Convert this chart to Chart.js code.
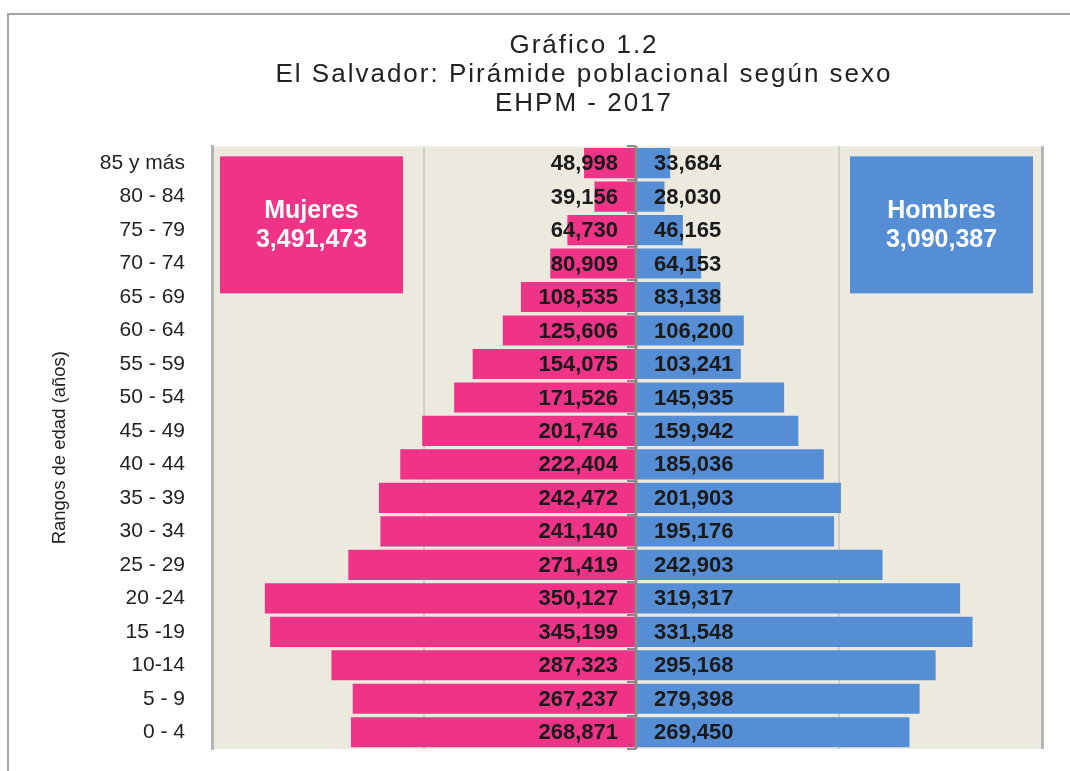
<!DOCTYPE html>
<html><head><meta charset="utf-8">
<script src="https://cdn.jsdelivr.net/npm/chart.js@4.4.1/dist/chart.umd.min.js"></script>
<style>
html,body{margin:0;padding:0;background:#fff;overflow:hidden;width:1070px;height:771px;}
#frame{position:absolute;left:7px;top:13px;width:1200px;height:800px;border-top:2px solid #a4a4a4;border-left:2px solid #a4a4a4;}
#c{position:absolute;left:0;top:0;}
</style></head><body>
<div id="frame"><canvas id="c" width="1150" height="756" style="width:1150px;height:756px"></canvas></div>
<script>
// ---- data ----
const ageGroups = ['85 y más','80 - 84','75 - 79','70 - 74','65 - 69','60 - 64','55 - 59','50 - 54','45 - 49','40 - 44','35 - 39','30 - 34','25 - 29','20 -24','15 -19','10-14','5 - 9','0 - 4'];
const mujeres = [48998,39156,64730,80909,108535,125606,154075,171526,201746,222404,242472,241140,271419,350127,345199,287323,267237,268871];
const hombres = [33684,28030,46165,64153,83138,106200,103241,145935,159942,185036,201903,195176,242903,319317,331548,295168,279398,269450];
const seriesNames = ['Mujeres','Hombres'];
const seriesTotals = [3491473, 3090387];
const titleLines = ['Gráfico 1.2','El Salvador: Pirámide poblacional según sexo','EHPM - 2017'];
const axisTitle = 'Rangos de edad (años)';
const axisMax = 400000;
const gridStep = 200000;

const PINK = '#EF3387', BLUE = '#558ED5';
const fmt = v => v.toLocaleString('en-US');

const plotBg = {
  id: 'plotBg',
  beforeDraw(chart) {
    const {ctx, chartArea: a} = chart;
    ctx.save();
    ctx.fillStyle = '#ECE9DF';
    ctx.fillRect(a.left, a.top, a.right - a.left, a.bottom - a.top);
    ctx.restore();
    // slightly spaced title lettering, as in the original
    const tb = chart.titleBlock;
    if (tb && !tb._spaced) {
      const orig = tb.draw.bind(tb);
      tb.draw = function (area) {
        const c = this.ctx;
        c.save();
        try { c.letterSpacing = '2px'; } catch (e) {}
        orig(area);
        c.restore();
      };
      tb._spaced = true;
    }
  }
};

const totalsBoxes = {
  id: 'totalsBoxes',
  beforeDatasetsDraw(chart) {
    const {ctx, chartArea: a} = chart;
    const w = 183, h = 137, top = a.top + 10;
    const boxes = [
      {x: a.left + 8, color: PINK, name: seriesNames[0], total: seriesTotals[0]},
      {x: a.right - 9 - w, color: BLUE, name: seriesNames[1], total: seriesTotals[1]}
    ];
    ctx.save();
    boxes.forEach(b => {
      ctx.fillStyle = b.color;
      ctx.fillRect(b.x, top, w, h);
      ctx.fillStyle = '#ffffff';
      ctx.font = 'bold 25px "Liberation Sans", Arial, sans-serif';
      ctx.textAlign = 'center';
      ctx.textBaseline = 'middle';
      const cx = b.x + w / 2, cy = top + h / 2;
      ctx.fillText(b.name, cx, cy - 14);
      ctx.fillText(fmt(b.total), cx, cy + 15);
    });
    ctx.restore();
  }
};

const centerAxis = {
  id: 'centerAxis',
  afterDatasetsDraw(chart) {
    const {ctx, chartArea: a, scales} = chart;
    const x0 = scales.xm.getPixelForValue(0);
    const y = scales.y;
    const step = (y.getPixelForValue(1) - y.getPixelForValue(0));
    ctx.save();
    ctx.strokeStyle = '#8a8a8a';
    ctx.lineWidth = 3;
    ctx.beginPath();
    ctx.moveTo(x0, a.top);
    ctx.lineTo(x0, a.bottom);
    ctx.stroke();
    ctx.lineWidth = 2;
    ctx.beginPath();
    for (let i = 0; i <= ageGroups.length; i++) {
      const yy = Math.round(y.getPixelForValue(i) - step / 2);
      ctx.moveTo(x0 - 9, yy);
      ctx.lineTo(x0, yy);
    }
    ctx.stroke();
    ctx.fillStyle = '#1a1a1a';
    ctx.font = 'bold 22px "Liberation Sans", Arial, sans-serif';
    ctx.textBaseline = 'middle';
    chart.getDatasetMeta(0).data.forEach((bar, i) => {
      ctx.textAlign = 'right';
      ctx.fillText(fmt(mujeres[i]), x0 - 18, bar.y + 1);
    });
    chart.getDatasetMeta(1).data.forEach((bar, i) => {
      ctx.textAlign = 'left';
      ctx.fillText(fmt(hombres[i]), x0 + 18, bar.y + 1);
    });
    ctx.restore();
  }
};

const gridColor = ctx => {
  const v = ctx.tick && ctx.tick.value;
  if (v === 0) return 'rgba(0,0,0,0)';
  if (v === axisMax) return '#b4b4b4';
  return '#cfcfcf';
};
const gridWidth = ctx => (ctx.tick && ctx.tick.value === axisMax) ? 3 : 2;

new Chart(document.getElementById('c'), {
  type: 'bar',
  data: {
    labels: ageGroups,
    datasets: [
      {label: seriesNames[0], data: mujeres, xAxisID: 'xf', yAxisID: 'y', backgroundColor: PINK, barPercentage: 0.9, categoryPercentage: 1, grouped: false},
      {label: seriesNames[1], data: hombres, xAxisID: 'xm', yAxisID: 'y', backgroundColor: BLUE, barPercentage: 0.9, categoryPercentage: 1, grouped: false}
    ]
  },
  options: {
    indexAxis: 'y',
    responsive: false,
    animation: false,
    devicePixelRatio: 1,
    layout: {padding: {left: 0, right: 0, top: 0, bottom: 22}},
    plugins: {
      legend: {display: false},
      tooltip: {enabled: false},
      title: {
        display: true,
        text: titleLines,
        color: '#222222',
        font: {family: '"Liberation Sans", Arial, sans-serif', size: 26, weight: 'normal', lineHeight: 1.12},
        padding: {top: 16, bottom: 28}
      }
    },
    scales: {
      xf: {
        type: 'linear', position: 'bottom', stack: 'pyr', stackWeight: 424,
        reverse: true, min: 0, max: axisMax,
        ticks: {display: false, stepSize: gridStep},
        grid: {color: gridColor, lineWidth: gridWidth, drawTicks: false},
        border: {display: false}
      },
      xm: {
        type: 'linear', position: 'bottom', stack: 'pyr', stackWeight: 406,
        min: 0, max: axisMax,
        ticks: {display: false, stepSize: gridStep},
        grid: {color: gridColor, lineWidth: gridWidth, drawTicks: false},
        border: {display: false}
      },
      y: {
        type: 'category', position: 'left',
        afterFit: s => { s.width = 203; s.paddingTop = 0; s.paddingBottom = 0; },
        grid: {display: false, drawTicks: false},
        border: {display: true, color: '#b4b4b4', width: 3},
        ticks: {color: '#222222', padding: 27, font: {family: '"Liberation Sans", Arial, sans-serif', size: 21}},
        title: {
          display: true, text: axisTitle, color: '#222222',
          font: {family: '"Liberation Sans Narrow", "Arial Narrow", "Liberation Sans", sans-serif', size: 18.5, lineHeight: 1.15},
          padding: {top: 40, bottom: 0}
        }
      },
      yr: {
        type: 'category', position: 'right',
        afterFit: s => { s.width = 117; s.paddingTop = 0; s.paddingBottom = 0; },
        ticks: {display: false},
        grid: {display: false, drawTicks: false},
        border: {display: false}
      }
    }
  },
  plugins: [plotBg, totalsBoxes, centerAxis]
});
</script>
</body></html>
